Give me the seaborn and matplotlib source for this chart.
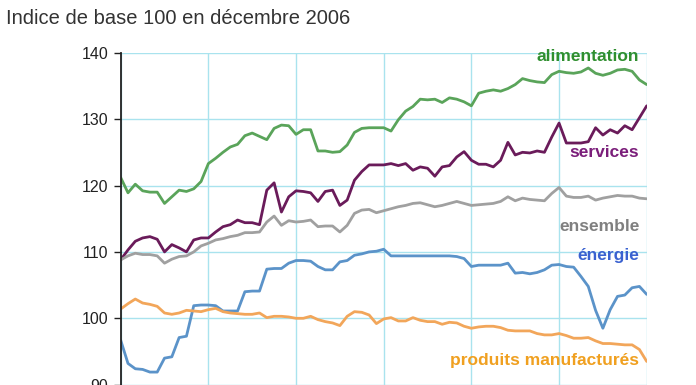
import numpy as np
import pandas as pd
import seaborn as sns
import matplotlib
matplotlib.use("Agg")
import matplotlib.pyplot as plt

months = list(range(73))

alimentation = [121.2, 118.9, 120.2, 119.2, 119.0, 119.0, 117.3, 118.3, 119.3, 119.1,
                119.5, 120.6, 123.3, 124.1, 125.0, 125.8, 126.2, 127.5, 127.9, 127.4,
                126.9, 128.6, 129.1, 129.0, 127.7, 128.4, 128.4, 125.2, 125.2, 125.0,
                125.1, 126.1, 128.0, 128.6, 128.7, 128.7, 128.7, 128.2, 129.9, 131.2,
                131.9, 133.0, 132.9, 133.0, 132.5, 133.2, 133.0, 132.6, 132.0, 133.9,
                134.2, 134.4, 134.2, 134.6, 135.2, 136.1, 135.8, 135.6, 135.5, 136.7,
                137.2, 137.0, 136.9, 137.1, 137.7, 136.9, 136.6, 136.9, 137.4, 137.5,
                137.2, 135.9, 135.2]

services = [108.8, 110.3, 111.6, 112.1, 112.3, 111.9, 110.0, 111.1, 110.6, 110.0,
            111.8, 112.1, 112.1, 113.0, 113.8, 114.1, 114.8, 114.4, 114.4, 114.1,
            119.3, 120.4, 116.0, 118.3, 119.2, 119.1, 118.9, 117.6, 119.1, 119.3,
            117.0, 117.8, 120.8, 122.1, 123.1, 123.1, 123.1, 123.3, 123.0, 123.3,
            122.3, 122.8, 122.6, 121.4, 122.8, 123.0, 124.3, 125.1, 123.8, 123.2,
            123.2, 122.8, 123.8, 126.5, 124.6, 125.0, 124.9, 125.2, 125.0, 127.3,
            129.4, 126.4, 126.4, 126.4, 126.6, 128.7, 127.6, 128.4, 127.9, 129.0,
            128.4, 130.2, 132.0]

ensemble = [108.8, 109.4, 109.8, 109.6, 109.6, 109.4, 108.3, 108.9, 109.3, 109.4,
            110.0, 110.9, 111.3, 111.8, 112.0, 112.3, 112.5, 112.9, 112.9, 113.0,
            114.5, 115.4, 114.0, 114.7, 114.5, 114.6, 114.8, 113.8, 113.9, 113.9,
            113.0, 114.0, 115.8, 116.3, 116.4, 115.9, 116.2, 116.5, 116.8, 117.0,
            117.3, 117.4, 117.1, 116.8, 117.0, 117.3, 117.6, 117.3, 117.0, 117.1,
            117.2, 117.3, 117.6, 118.3, 117.7, 118.1, 117.9, 117.8, 117.7, 118.8,
            119.7, 118.4, 118.2, 118.2, 118.4, 117.8, 118.1, 118.3, 118.5, 118.4,
            118.4, 118.1, 118.0]

energie = [96.7, 93.2, 92.4, 92.3, 91.9, 91.9, 94.0, 94.2, 97.1, 97.3,
           101.9, 102.0, 102.0, 101.9, 101.1, 101.1, 101.1, 104.0, 104.1, 104.1,
           107.4, 107.5, 107.5, 108.3, 108.7, 108.7, 108.6, 107.8, 107.3, 107.3,
           108.5, 108.7, 109.5, 109.7, 110.0, 110.1, 110.4, 109.4, 109.4, 109.4,
           109.4, 109.4, 109.4, 109.4, 109.4, 109.4, 109.3, 109.0, 107.8, 108.0,
           108.0, 108.0, 108.0, 108.3, 106.8, 106.9, 106.7, 106.9, 107.3, 108.0,
           108.1, 107.8, 107.7, 106.3, 104.8, 101.2, 98.5, 101.3, 103.3, 103.5,
           104.6, 104.8, 103.6]

produits = [101.4, 102.2, 102.9, 102.3, 102.1, 101.8, 100.8, 100.6, 100.8, 101.2,
            101.1, 101.0, 101.3, 101.5, 101.0, 100.8, 100.7, 100.6, 100.6, 100.8,
            100.1, 100.3, 100.3, 100.2, 100.0, 100.0, 100.3, 99.8, 99.5, 99.3,
            98.9, 100.3, 101.0, 100.9, 100.5, 99.2, 99.9, 100.1, 99.6, 99.6,
            100.1, 99.7, 99.5, 99.5, 99.1, 99.4, 99.3, 98.8, 98.5, 98.7,
            98.8, 98.8, 98.6, 98.2, 98.1, 98.1, 98.1, 97.7, 97.5, 97.5,
            97.7, 97.4, 97.0, 97.0, 97.1, 96.6, 96.2, 96.2, 96.1, 96.0,
            96.0, 95.3, 93.5]

series_names = ["alimentation", "services", "ensemble", "énergie", "produits manufacturés"]
line_colors = ["#5aa45a", "#6a1b5a", "#a0a0a0", "#5b93c9", "#f2a65a"]
label_colors = ["#2f8f2f", "#7b1e7a", "#808080", "#3a62d0", "#f0a020"]
yticks = [90, 100, 110, 120, 130, 140]

df = pd.DataFrame({
    "mois": months * 5,
    "indice": alimentation + services + ensemble + energie + produits,
    "serie": sum([[n] * len(months) for n in series_names], []),
})

sns.set_theme(style="white")
plt.rcParams["font.family"] = ["Liberation Sans", "DejaVu Sans"]

fig = plt.figure(figsize=(6.96, 3.85), dpi=100)
ax = fig.add_axes([0.1734, 0.0008, 0.7558, 0.8623])

sns.lineplot(data=df, x="mois", y="indice", hue="serie", hue_order=series_names,
             palette=line_colors, linewidth=2.0, legend=False, ax=ax)

ax.set_xlim(0, 72)
ax.set_ylim(90, 140)
ax.set_yticks(yticks)
ax.set_yticklabels([str(t) for t in yticks], fontsize=11.5, color="#222222")
ax.set_xticks(range(0, 73, 12))
ax.set_xticklabels([])
ax.tick_params(axis="x", length=0)
ax.tick_params(axis="y", length=5, width=1, color="#222222", direction="out", pad=4, left=True)
ax.grid(True, color="#a9e3ee", linewidth=1.0)
ax.set_axisbelow(True)
for s in ["top", "right", "bottom"]:
    ax.spines[s].set_visible(False)
ax.spines["left"].set_color("#222222")
ax.spines["left"].set_linewidth(1.3)
ax.set_xlabel("")
ax.set_ylabel("")

label_pos = [139.5, 124.9, 113.9, 109.5, 93.6]
for name, col, yv in zip(series_names, label_colors, label_pos):
    ax.text(71.0, yv, name, color=col, fontsize=12.5, fontweight="bold",
            ha="right", va="center")

fig.text(0.008, 0.953, "Indice de base 100 en décembre 2006", fontsize=14.5,
         color="#333333", ha="left", va="center")

fig.savefig("out.png", dpi=100)
